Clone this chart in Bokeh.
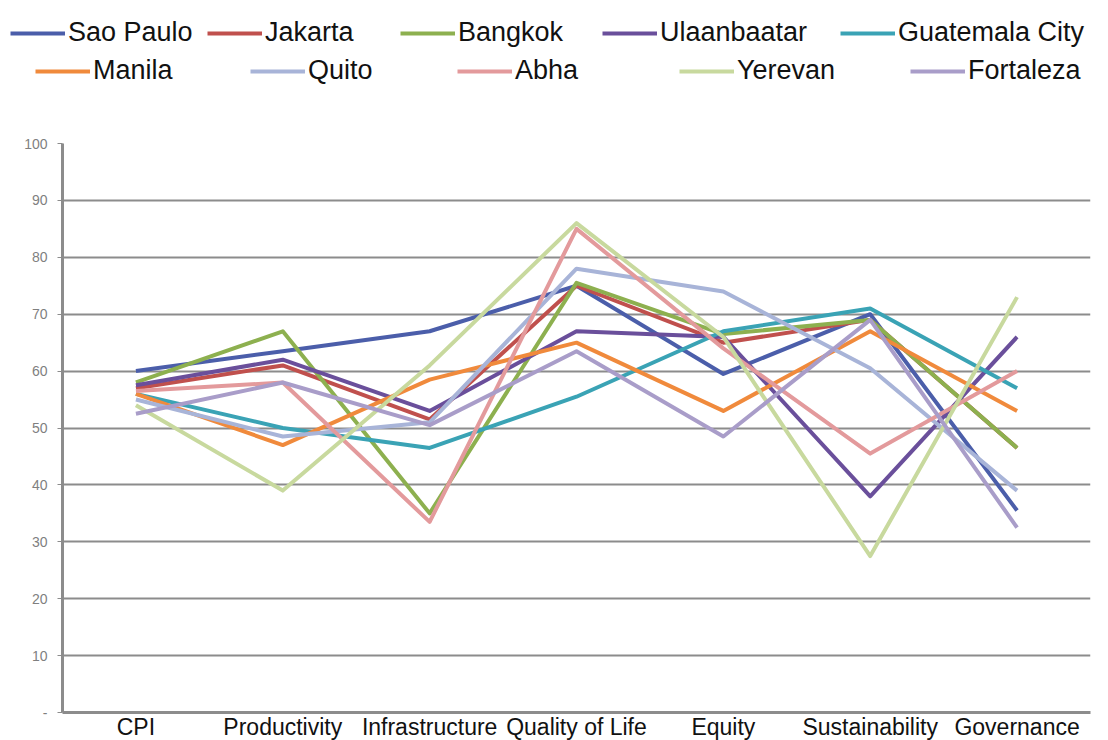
from bokeh.plotting import figure
from bokeh.models import Legend, LegendItem, FixedTicker, Range1d, FactorRange
from bokeh.layouts import column
from bokeh.embed import file_html
from bokeh.resources import INLINE

categories = ["CPI", "Productivity", "Infrastructure", "Quality of Life",
              "Equity", "Sustainability", "Governance"]

cities = ["Sao Paulo", "Jakarta", "Bangkok", "Ulaanbaatar", "Guatemala City",
          "Manila", "Quito", "Abha", "Yerevan", "Fortaleza"]

sao_paulo = [60, 63.5, 67, 75, 59.5, 70, 35.5]
jakarta = [57, 61, 51.5, 75, 65, 69, 46.5]
bangkok = [58, 67, 35, 75.5, 66.5, 69, 46.5]
ulaanbaatar = [57.5, 62, 53, 67, 66, 38, 66]
guatemala_city = [56, 50, 46.5, 55.5, 67, 71, 57]
manila = [56, 47, 58.5, 65, 53, 67, 53]
quito = [55, 48.5, 51, 78, 74, 60.5, 39]
abha = [56.5, 58, 33.5, 85, 64, 45.5, 60]
yerevan = [54, 39, 61, 86, 66, 27.5, 73]
fortaleza = [52.5, 58, 50.5, 63.5, 48.5, 69, 32.5]

series = [sao_paulo, jakarta, bangkok, ulaanbaatar, guatemala_city,
          manila, quito, abha, yerevan, fortaleza]

colors = ["#4B5EAA", "#C0504D", "#8DB04F", "#6A4F9B", "#3AA3B5",
          "#F08A3C", "#A8B4D8", "#E39A9C", "#C8D99E", "#A99DC9"]

FONT = "Liberation Sans"
LEG_H = 100

# ---------------- main chart ----------------
p = figure(x_range=FactorRange(factors=categories, range_padding=0),
           y_range=Range1d(0, 100),
           frame_width=1028, frame_height=569,
           min_border_left=62, min_border_right=18,
           min_border_top=143 - LEG_H, min_border_bottom=0,
           output_backend="svg", toolbar_location=None)

p.outline_line_color = None
p.background_fill_color = "white"
p.xgrid.grid_line_color = None
p.ygrid.grid_line_color = "#8c8c8c"
p.ygrid.grid_line_width = 2

p.yaxis.ticker = FixedTicker(ticks=list(range(0, 101, 10)))
p.yaxis.major_label_overrides = {0: "-"}
p.yaxis.major_label_text_font = FONT
p.yaxis.major_label_text_font_size = "14px"
p.yaxis.major_label_text_color = "#7f7f7f"
p.yaxis.axis_line_color = "#8c8c8c"
p.yaxis.axis_line_width = 3
p.yaxis.major_tick_line_color = "#8c8c8c"
p.yaxis.major_tick_out = 5
p.yaxis.major_tick_in = 0
p.yaxis.minor_tick_line_color = None
p.yaxis.major_label_standoff = 10

p.xaxis.major_label_text_font = FONT
p.xaxis.major_label_text_font_size = "23px"
p.xaxis.major_label_text_color = "#111111"
p.xaxis.axis_line_color = "#8c8c8c"
p.xaxis.axis_line_width = 3
p.xaxis.major_tick_line_color = None
p.xaxis.major_tick_out = 0
p.xaxis.major_tick_in = 0
p.xaxis.major_label_standoff = 1

for vals, col in zip(series, colors):
    p.line(x=categories, y=vals, line_width=4, line_color=col,
           line_join="round")

# ---------------- legend strip ----------------
lf = figure(x_range=Range1d(0, 1), y_range=Range1d(0, 1),
            frame_width=1108, frame_height=LEG_H,
            min_border=0, x_axis_location=None, y_axis_location=None,
            output_backend="svg", toolbar_location=None)
lf.outline_line_color = None
lf.xgrid.grid_line_color = None
lf.ygrid.grid_line_color = None

H = 30
row1_x = [10, 207, 400, 602, 840]
row2_x = [35, 250, 457, 679, 910]
pos = [(x, LEG_H - (33 + H // 2)) for x in row1_x] + \
      [(x, LEG_H - (71 + H // 2)) for x in row2_x]

# legend proxies: lines kept outside the strip's visible range
proxy_x = [-2, -1]
proxy_y = [-2, -2]

for name, col, (lx, ly) in zip(cities, colors, pos):
    r = lf.line(x=proxy_x, y=proxy_y, line_width=4, line_color=col)
    lg = Legend(items=[LegendItem(label=name, renderers=[r])],
                location=(lx, ly), orientation="horizontal",
                glyph_width=55, glyph_height=H, label_height=H,
                label_standoff=3, padding=0, margin=0, spacing=0,
                border_line_color=None, background_fill_alpha=0,
                label_text_font=FONT, label_text_font_size="27px",
                label_text_color="#111111")
    lf.add_layout(lg, "center")

layout = column(lf, p, spacing=0)
open("out.html", "w").write(file_html(layout, INLINE))
